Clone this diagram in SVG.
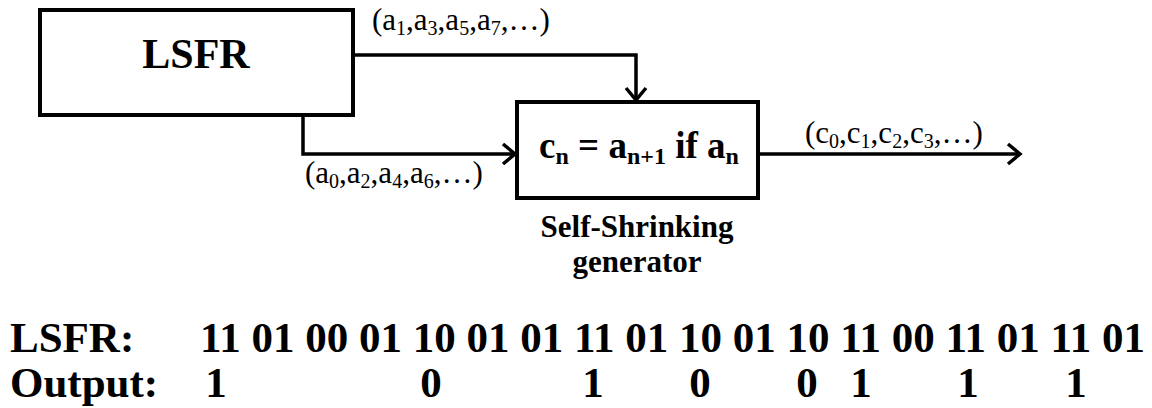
<svg xmlns="http://www.w3.org/2000/svg" width="1152" height="408" viewBox="0 0 1152 408">
<style>
.box{fill:#fff;stroke:#000;stroke-width:4}
.ln{fill:none;stroke:#000;stroke-width:3.5}
.t{font-family:"Liberation Serif","Times New Roman",serif;fill:#000}
.b{font-weight:bold}
.lbl{font-size:31px}
.sub{font-size:20px}
</style>
<defs>
<marker id="arr" markerUnits="userSpaceOnUse" markerWidth="20" markerHeight="24" refX="14" refY="12" orient="auto" viewBox="0 0 20 24">
<path d="M2,2 L14,12 L2,22" fill="none" stroke="#000" stroke-width="3.5"/>
</marker>
</defs>
<g id="connectors">
<path class="ln" d="M355,55 H636 V100" marker-end="url(#arr)"/>
<path class="ln" d="M303,117 V154 H515" marker-end="url(#arr)"/>
<path class="ln" d="M760,154 H1020" marker-end="url(#arr)"/>
<text class="t lbl" x="372" y="30">(a<tspan class="sub" dy="5">1</tspan><tspan dy="-5">,a</tspan><tspan class="sub" dy="5">3</tspan><tspan dy="-5">,a</tspan><tspan class="sub" dy="5">5</tspan><tspan dy="-5">,a</tspan><tspan class="sub" dy="5">7</tspan><tspan dy="-5">,…)</tspan></text>
<text class="t lbl" x="305" y="183">(a<tspan class="sub" dy="5">0</tspan><tspan dy="-5">,a</tspan><tspan class="sub" dy="5">2</tspan><tspan dy="-5">,a</tspan><tspan class="sub" dy="5">4</tspan><tspan dy="-5">,a</tspan><tspan class="sub" dy="5">6</tspan><tspan dy="-5">,…)</tspan></text>
<text class="t lbl" x="805" y="143">(c<tspan class="sub" dy="5">0</tspan><tspan dy="-5">,c</tspan><tspan class="sub" dy="5">1</tspan><tspan dy="-5">,c</tspan><tspan class="sub" dy="5">2</tspan><tspan dy="-5">,c</tspan><tspan class="sub" dy="5">3</tspan><tspan dy="-5">,…)</tspan></text>
</g>
<g id="lsfr">
<rect class="box" x="40" y="10" width="313" height="105"/>
<text class="t b" x="196" y="68" font-size="42" text-anchor="middle">LSFR</text>
</g>
<g id="ssg">
<rect class="box" x="517" y="102" width="241" height="96"/>
<text class="t b" x="639" y="158" font-size="37" text-anchor="middle">c<tspan font-size="24" dy="6">n</tspan><tspan dy="-6"> = a</tspan><tspan font-size="24" dy="6">n+1</tspan><tspan dy="-6"> if a</tspan><tspan font-size="24" dy="6">n</tspan></text>
<text class="t b" x="637" y="237" font-size="31" text-anchor="middle">Self-Shrinking</text>
<text class="t b" x="637" y="272" font-size="31" text-anchor="middle">generator</text>
</g>
<g id="sequence">
<text class="t b" x="10" y="352" font-size="43">LSFR:</text>
<text class="t b" x="200" y="352" font-size="43" xml:space="preserve">11 01 00 01 10 01 01 11 01 10 01 10 11 00 11 01 11 01</text>
<text class="t b" x="10" y="397" font-size="43">Output:</text>
<g class="t b" font-size="43" text-anchor="middle">
<text x="216" y="397">1</text>
<text x="431" y="397">0</text>
<text x="593" y="397">1</text>
<text x="700" y="397">0</text>
<text x="807" y="397">0</text>
<text x="861" y="397">1</text>
<text x="968" y="397">1</text>
<text x="1076" y="397">1</text>
</g>
</g>
</svg>
